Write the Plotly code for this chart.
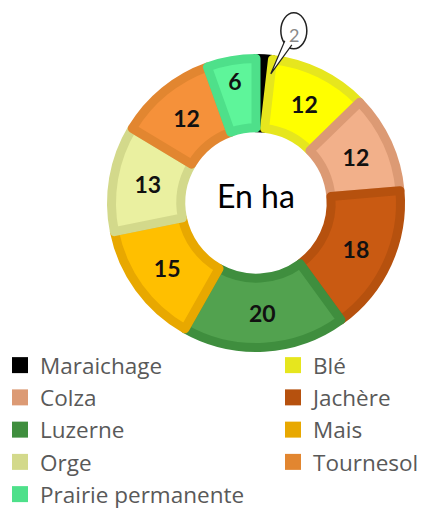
import math
import plotly.graph_objects as go

# Surfaces par culture (ha)
cultures = ["Maraichage", "Blé", "Colza", "Jachère", "Luzerne",
            "Mais", "Orge", "Tournesol", "Prairie permanente"]
surfaces = [2, 12, 12, 18, 20, 15, 13, 12, 6]

fill_colors = ["#000000", "#ffff00", "#f2b08a", "#c95a12", "#52a24f",
               "#ffbf00", "#eaf0a0", "#f5913a", "#5ef59a"]
edge_colors = ["#000000", "#e6e61e", "#dc9a74", "#b6510e", "#3f8e3e",
               "#e8a800", "#d3d98b", "#e28630", "#4ee08a"]

W, H = 424, 509
CX, CY, R = 256, 203, 144.5        # pie centre and radius (px)
EDGE = 9                           # bevel-like border width


def px(x, y):
    """Pixel position -> paper coordinates."""
    return x / W, 1 - y / H


# Small slices get an external callout instead of an inside label
callout = "Maraichage"
texts = ["" if c == callout else str(v) for c, v in zip(cultures, surfaces)]

fig = go.Figure()
fig.add_trace(go.Pie(
    labels=cultures,
    values=surfaces,
    sort=False,
    direction="clockwise",
    hole=0.52,
    text=texts,
    textinfo="text",
    textposition="inside",
    insidetextorientation="horizontal",
    textfont=dict(family="Lato", size=23, color="#111111", weight="bold"),
    marker=dict(colors=fill_colors,
                line=dict(color=edge_colors, width=EDGE)),
    domain=dict(x=[(CX - R) / W, (CX + R) / W],
                y=[1 - (CY + R) / H, 1 - (CY - R) / H]),
    showlegend=False,
    hoverinfo="label+value",
))

# Legend entries in two columns (row-major order across the columns)
for i, (name, col) in enumerate(zip(cultures, edge_colors)):
    fig.add_trace(go.Scatter(
        x=[None], y=[None], mode="markers", name=name,
        marker=dict(symbol="square", size=16, color=col),
        legend="legend" if i % 2 == 0 else "legend2",
        hoverinfo="skip",
    ))

# Speech-bubble callout for the small slice; its tail ends on the
# slice's trailing edge
total = sum(surfaces)
idx = cultures.index(callout)
end_angle = sum(surfaces[:idx + 1]) / total * 2 * math.pi
r_tip = 0.9 * R
tip_x = CX + r_tip * math.sin(end_angle)
tip_y = CY - r_tip * math.cos(end_angle)
bub_x, bub_y = tip_x + 23, tip_y - 43       # bubble centre (px)
BW, BH = 13, 18                             # bubble half-size (px)

# bubble outline (under the pie, it sits just outside the ring)
fig.add_shape(type="circle", xref="paper", yref="paper",
              xsizemode="pixel", ysizemode="pixel",
              xanchor=px(bub_x, bub_y)[0], yanchor=px(bub_x, bub_y)[1],
              x0=-BW, x1=BW, y0=-BH, y1=BH,
              line=dict(color="#222222", width=1.5), fillcolor="white",
              layer="below")
# open tail drawn over the ring; its white fill opens the bubble outline
base1 = (bub_x - 9, bub_y + 10)
base2 = (bub_x - 2, bub_y + 14)
tail = [base1, (tip_x, tip_y), base2]
path = "M " + " L ".join("%.4f,%.4f" % px(x, y) for x, y in tail)
fig.add_shape(type="path", xref="paper", yref="paper", path=path,
              line=dict(color="#222222", width=1.2), fillcolor="white",
              layer="above")
fig.add_annotation(
    x=px(bub_x, bub_y)[0], y=px(bub_x, bub_y + 4)[1],
    xref="paper", yref="paper", xanchor="center", yanchor="middle",
    text=str(surfaces[idx]), showarrow=False,
    font=dict(family="Lato", size=18, color="#8a8a8a"),
)

# Centre label
fig.add_annotation(x=CX / W, y=1 - (CY - 7) / H, xref="paper", yref="paper",
                   xanchor="center", yanchor="middle",
                   text="En ha", showarrow=False,
                   font=dict(family="Lato", size=32, color="#000000"))

legend_style = dict(orientation="v", yanchor="top", xanchor="left",
                    font=dict(family="Open Sans", size=22.5, color="#595959"),
                    bgcolor="rgba(0,0,0,0)", itemclick=False,
                    itemdoubleclick=False, tracegroupgap=0)
fig.update_layout(
    width=W, height=H,
    margin=dict(l=0, r=0, t=0, b=0, autoexpand=False),
    paper_bgcolor="white", plot_bgcolor="white",
    xaxis=dict(visible=False), yaxis=dict(visible=False),
    legend=dict(x=0.0, y=1 - 344 / H, **legend_style),
    legend2=dict(x=(295 - 22) / W, y=1 - 344 / H, **legend_style),
)

fig.write_html("out.html")
